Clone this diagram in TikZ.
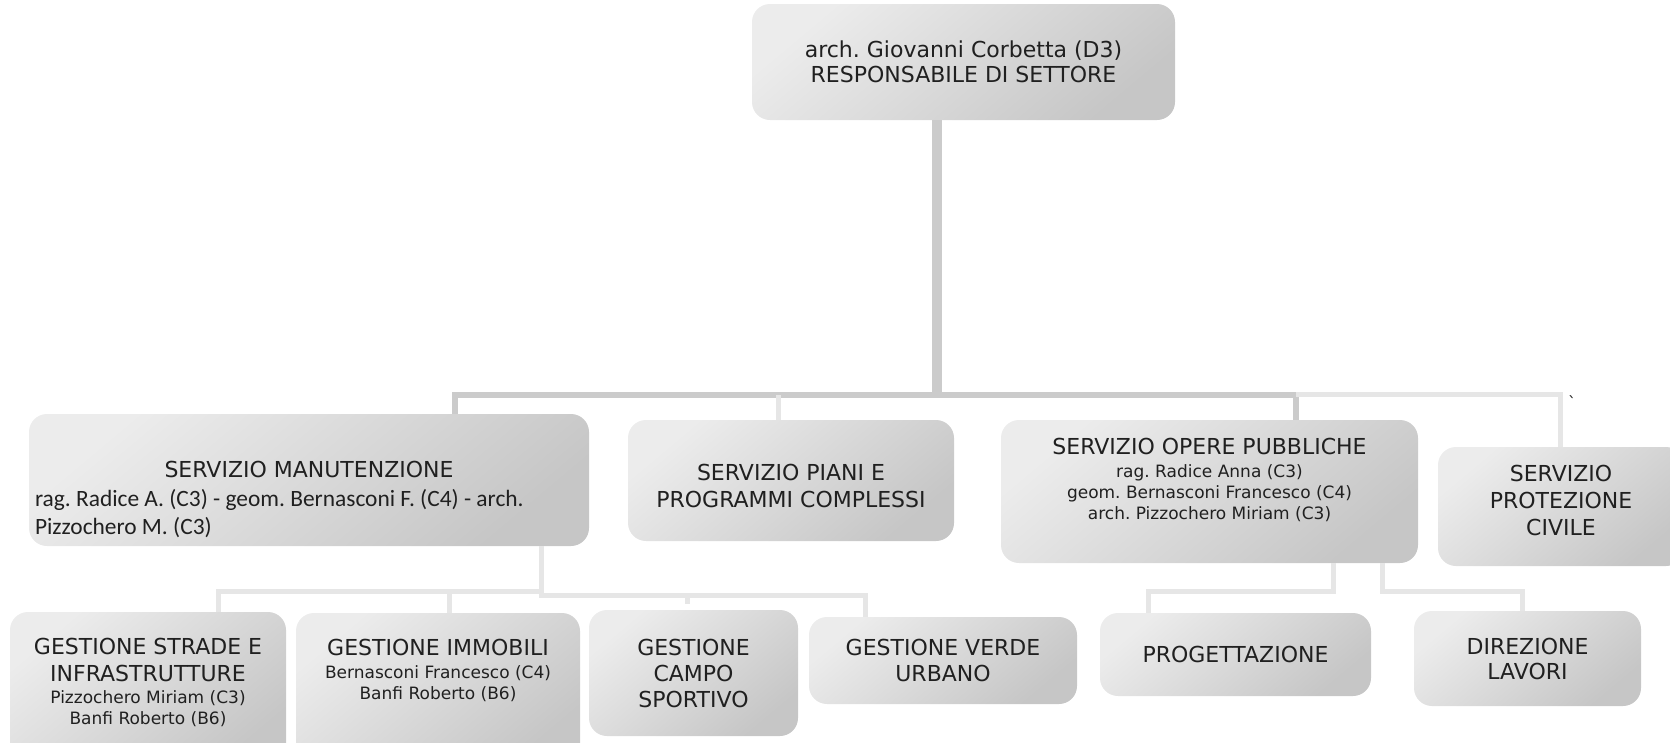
\documentclass[tikz,border=0pt]{standalone}
\usepackage{fontspec}
\setmainfont{DejaVu Sans}
\newfontfamily\namefont{Carlito}
\frenchspacing
\definecolor{boxlite}{HTML}{ECECEC}
\definecolor{boxmid}{HTML}{E7E7E7}
\definecolor{boxdark}{HTML}{C6C6C6}
\definecolor{linkdark}{HTML}{CBCBCB}
\definecolor{linklite}{HTML}{E6E6E6}
\definecolor{textgray}{HTML}{202020}
\newcommand{\hdr}{\fontsize{22}{26}\selectfont}
\newcommand{\nm}{\namefont\fontsize{23.4}{28.5}\selectfont}
\newcommand{\padtop}[1]{\rule{0pt}{#1}}
\newcommand{\padbot}[1]{\rule[-#1]{0pt}{#1}}

\begin{document}
\begin{tikzpicture}[x=1pt, y=-1pt,
  box/.style={rounded corners=18pt, top color=boxlite, middle color=boxmid,
              bottom color=boxdark, shading angle=40, text=textgray,
              inner sep=0pt, align=center, font=\hdr},
  small/.style={box, font=\fontsize{17}{21}\selectfont},
  main/.style={draw=linkdark, line width=6pt},
  link/.style={draw=linklite, line width=5pt}
]
  \useasboundingbox (0,0) rectangle (1670,742);
  \clip (0,0) rectangle (1670,742);

  % responsabile
  \node[box, minimum width=423pt, minimum height=116pt] (resp) at (963.5,62)
    {arch. Giovanni Corbetta (D3)\\[-1pt]RESPONSABILE DI SETTORE};

  % servizi
  \node[box, minimum width=560pt, minimum height=132pt, align=left,
        font=\fontsize{22}{28.5}\selectfont] (manut) at (309,480)
    {\padtop{56pt}\makebox[548pt]{SERVIZIO MANUTENZIONE}\\
     {\nm rag. Radice A. (C3) - geom. Bernasconi F. (C4) - arch.}\\
     {\nm Pizzochero M. (C3)}};
  \node[box, minimum width=326pt, minimum height=121pt] (piani) at (791,480.5)
    {\padtop{28pt}SERVIZIO PIANI E\\[1pt]PROGRAMMI COMPLESSI};
  \node[small, minimum width=417pt, minimum height=143pt] (opere) at (1209.5,491.5)
    {{\hdr SERVIZIO OPERE PUBBLICHE}\\[2pt]rag. Radice Anna (C3)\\
     geom. Bernasconi Francesco (C4)\\arch. Pizzochero Miriam (C3)\padbot{25pt}};
  \node[box, minimum width=246pt, minimum height=119pt] (prot) at (1561,506.5)
    {SERVIZIO\\[1pt]PROTEZIONE\\[1pt]CIVILE\padbot{13pt}};

  % uffici
  \node[small, minimum width=276pt, minimum height=153pt] (strade) at (148,688.5)
    {{\hdr GESTIONE STRADE E}\\[5.5pt]{\hdr INFRASTRUTTURE}\\[0.7pt]
     Pizzochero Miriam (C3)\\Banfi Roberto (B6)\padbot{14.5pt}};
  \node[small, minimum width=284pt, minimum height=150pt] (immob) at (438,688)
    {{\hdr GESTIONE IMMOBILI}\\[1.5pt]Bernasconi Francesco (C4)\\
     Banfi Roberto (B6)\padbot{37.5pt}};
  \node[box, minimum width=209pt, minimum height=126pt] (campo) at (693.5,673)
    {GESTIONE\\CAMPO\\SPORTIVO};
  \node[box, minimum width=268pt, minimum height=87pt] (verde) at (943,660.5)
    {GESTIONE VERDE\\URBANO};
  \node[box, minimum width=271pt, minimum height=83pt] (progett) at (1235.5,654.5)
    {PROGETTAZIONE};
  \node[box, minimum width=227pt, minimum height=95pt] (direz) at (1527.5,658.5)
    {DIREZIONE\\[-1pt]LAVORI};

  \node[text=textgray, inner sep=0pt, font=\fontsize{16}{16}\selectfont] (grave)
    at (1572,402) {\textasciigrave};

  % collegamenti
  \coordinate (trunkx) at (937,395);
  \coordinate (busL) at (455,395);
  \coordinate (busO) at (1296,395);
  \coordinate (busP) at (1560,394);
  \coordinate (pianix) at (778,395);
  \draw[main, line width=10pt] (resp.south -| trunkx) -- (trunkx);
  \draw[main] (manut.north -| busL) -- (busL) -- (busO) -- (opere.north -| busO);
  \draw[link] (busO |- busP) -- (busP) -- (prot.north -| busP);
  \draw[link] (pianix) -- (piani.north -| pianix);

  \coordinate (mstem) at (541,595);
  \coordinate (mleft) at (218,591);
  \coordinate (mright) at (865,595);
  \coordinate (immobx) at (449,591);
  \coordinate (campotick) at (687,604);
  \draw[link] (manut.south -| mstem) -- (mstem) -- (mright) -- (verde.north -| mright);
  \draw[link] (strade.north -| mleft) -- (mleft) -- (mleft -| mstem);
  \draw[link] (immob.north -| immobx) -- (immobx);
  \draw[link] (campotick) -- (campotick |- mright);

  \coordinate (ostem1) at (1333,591);
  \coordinate (ostem2) at (1382,591);
  \coordinate (oleft) at (1148,591);
  \coordinate (oright) at (1522,591);
  \draw[link] (opere.south -| ostem1) -- (ostem1) -- (oleft) -- (progett.north -| oleft);
  \draw[link] (opere.south -| ostem2) -- (ostem2) -- (oright) -- (direz.north -| oright);
\end{tikzpicture}
\end{document}
